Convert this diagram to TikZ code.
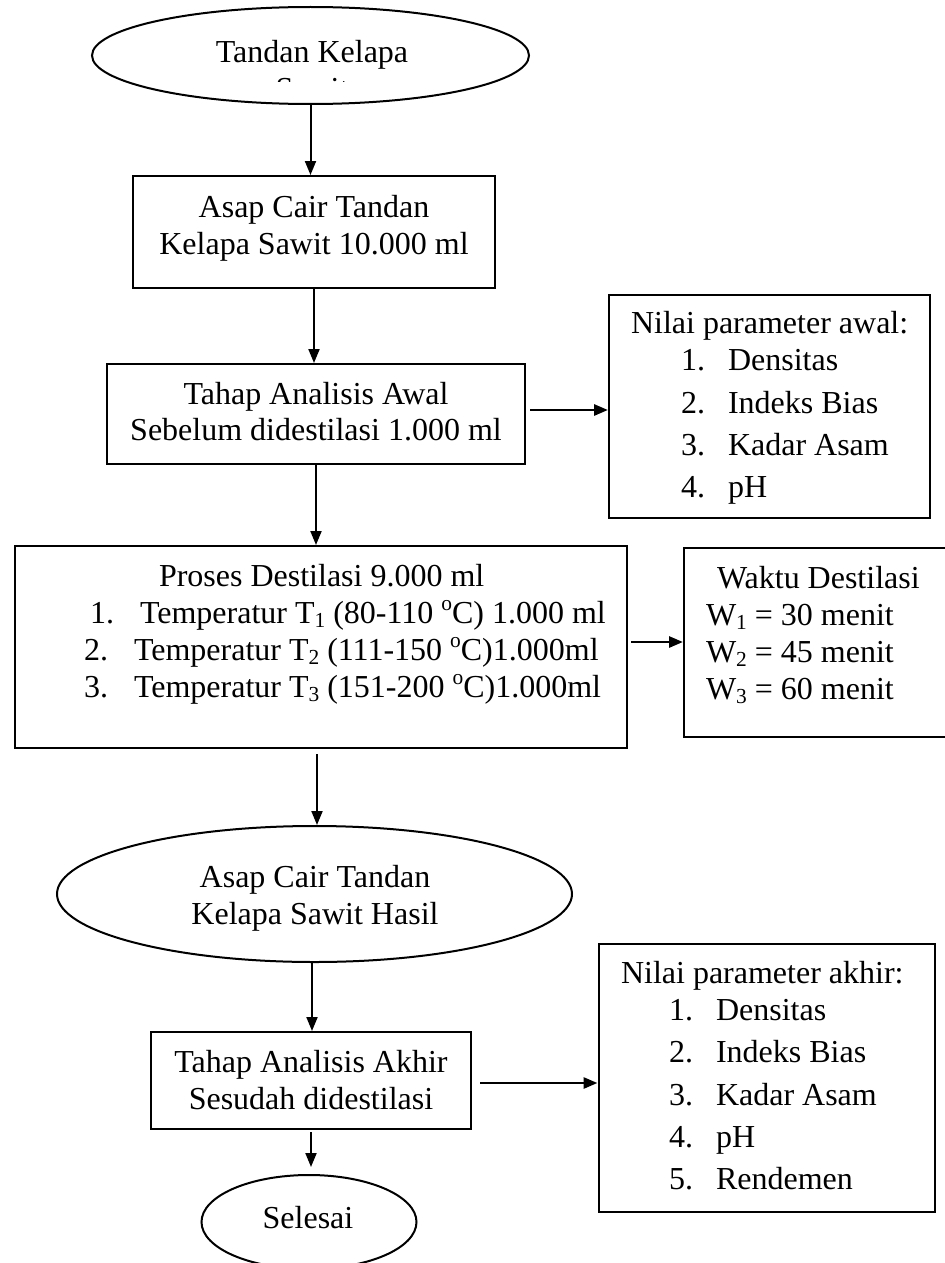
\documentclass[tikz,border=0pt]{standalone}
\usepackage{fontspec}
\setmainfont{Liberation Serif}
\usetikzlibrary{arrows.meta,shapes.geometric}
\newcommand\mysub[1]{\raisebox{-0.3ex}{\fontsize{10.7pt}{11pt}\selectfont #1}}
\newcommand\mysup[1]{\raisebox{0.85ex}{\fontsize{10.7pt}{11pt}\selectfont #1}}
\begin{document}
\begin{tikzpicture}[x=0.5pt,y=-0.5pt,
  line width=1pt,
  boxnode/.style={draw, rectangle, inner sep=0pt},
  ovalnode/.style={draw, ellipse, inner sep=0pt},
  txt/.style={inner sep=0pt, anchor=base, font=\fontsize{16pt}{18.4pt}\selectfont},
  txtl/.style={txt, anchor=base west},
  arr/.style={-{Triangle[length=7pt,width=5.5pt]}, line width=1pt},
  harr/.style={arr, line width=1.4pt}]
\useasboundingbox (0,0) rectangle (945,1263);
\fill[white] (0,0) rectangle (945,1263);

% shapes
\node[ovalnode, minimum width=218.5pt, minimum height=48.5pt] (e1) at (310.5,55.5) {};
\node[boxnode, minimum width=181pt, minimum height=56pt] (b1) at (314,232) {};
\node[boxnode, minimum width=209pt, minimum height=50pt] (b2) at (316,414) {};
\node[boxnode, minimum width=160.5pt, minimum height=111.5pt] (p1) at (769.5,406.5) {};
\node[boxnode, minimum width=306pt, minimum height=101pt] (b3) at (321,647) {};
\node[boxnode, minimum width=158pt, minimum height=94.5pt] (w1) at (842,642.5) {};
\node[ovalnode, minimum width=257.5pt, minimum height=68pt] (e2) at (314.5,894) {};
\node[boxnode, minimum width=160pt, minimum height=48.5pt] (b4) at (311,1080.5) {};
\node[boxnode, minimum width=168pt, minimum height=134pt] (p2) at (766.5,1078) {};
\node[ovalnode, minimum width=107.5pt, minimum height=47pt] (e3) at (309,1222) {};

% texts
\node[txt] (t1a) at (312,63) {Tandan Kelapa};
\begin{scope}
\clip (0,0) rectangle (945,82);
\node[txt] (t1b) at (312,100) {Sawit};
\end{scope}

\node[txt] (t2a) at (314,217) {Asap Cair Tandan};
\node[txt] (t2b) at (314,254) {Kelapa Sawit 10.000 ml};

\node[txt] (t3a) at (316,404) {Tahap Analisis Awal};
\node[txt] (t3b) at (316,440) {Sebelum didestilasi 1.000 ml};

\node[txtl] (t4) at (630,333) {Nilai parameter awal:};
\node[txtl] (t4n1) at (680,370) {1.};
\node[txtl] (t4i1) at (727,370) {Densitas};
\node[txtl] (t4n2) at (680,413) {2.};
\node[txtl] (t4i2) at (727,413) {Indeks Bias};
\node[txtl] (t4n3) at (680,455) {3.};
\node[txtl] (t4i3) at (727,455) {Kadar Asam};
\node[txtl] (t4n4) at (680,497) {4.};
\node[txtl] (t4i4) at (727,497) {pH};

\node[txtl] (t5) at (158,586) {Proses Destilasi 9.000 ml};
\node[txtl] (t5n1) at (89,623) {1.};
\node[txtl] (t5i1) at (139,623) {Temperatur T\mysub{1} (80-110 \mysup{o}C) 1.000 ml};
\node[txtl] (t5n2) at (83,660) {2.};
\node[txtl] (t5i2) at (133,660) {Temperatur T\mysub{2} (111-150 \mysup{o}C)1.000ml};
\node[txtl] (t5n3) at (83,697) {3.};
\node[txtl] (t5i3) at (133,697) {Temperatur T\mysub{3} (151-200 \mysup{o}C)1.000ml};

\node[txtl] (t6) at (716,588) {Waktu Destilasi};
\node[txtl] (t6a) at (705,625) {W\mysub{1} = 30 menit};
\node[txtl] (t6b) at (705,662) {W\mysub{2} = 45 menit};
\node[txtl] (t6c) at (705,699) {W\mysub{3} = 60 menit};

\node[txt] (t7a) at (315,887) {Asap Cair Tandan};
\node[txt] (t7b) at (315,924) {Kelapa Sawit Hasil};

\node[txt] (t8a) at (311,1072) {Tahap Analisis Akhir};
\node[txt] (t8b) at (311,1109) {Sesudah didestilasi};

\node[txtl] (t9) at (620,983) {Nilai parameter akhir:};
\node[txtl] (t9n1) at (668,1020) {1.};
\node[txtl] (t9i1) at (715,1020) {Densitas};
\node[txtl] (t9n2) at (668,1062) {2.};
\node[txtl] (t9i2) at (715,1062) {Indeks Bias};
\node[txtl] (t9n3) at (668,1105) {3.};
\node[txtl] (t9i3) at (715,1105) {Kadar Asam};
\node[txtl] (t9n4) at (668,1147) {4.};
\node[txtl] (t9i4) at (715,1147) {pH};
\node[txtl] (t9n5) at (668,1189) {5.};
\node[txtl] (t9i5) at (715,1189) {Rendemen};

\node[txt] (t10) at (308,1228) {Selesai};

% connectors
\draw[arr] (e1.south) -- (e1.south |- b1.north);
\draw[arr] (b1.south) -- (b1.south |- b2.north);
\draw[arr] ([xshift=0pt]b2.south) -- ([xshift=0pt]b2.south |- b3.north);
\draw[harr] ([xshift=2pt,yshift=2pt]b2.east) -- ([yshift=2pt]b2.east -| p1.west);
\draw[harr] ([xshift=1.5pt,yshift=2.5pt]b3.east) -- ([yshift=2.5pt]b3.east -| w1.west);
\draw[arr] ([xshift=-2pt,yshift=-2.5pt]b3.south) -- ([xshift=-2pt]b3.south |- e2.north);
\draw[arr] ([xshift=-1.25pt]e2.south) -- ([xshift=-1.25pt]e2.south |- b4.north);
\draw[harr] ([xshift=4pt,yshift=-1.25pt]b4.east) -- ([yshift=-1.25pt]b4.east -| p2.west);
\draw[arr] ([yshift=-1pt]b4.south) -- ([yshift=3.5pt]b4.south |- e3.north);
\end{tikzpicture}
\end{document}
